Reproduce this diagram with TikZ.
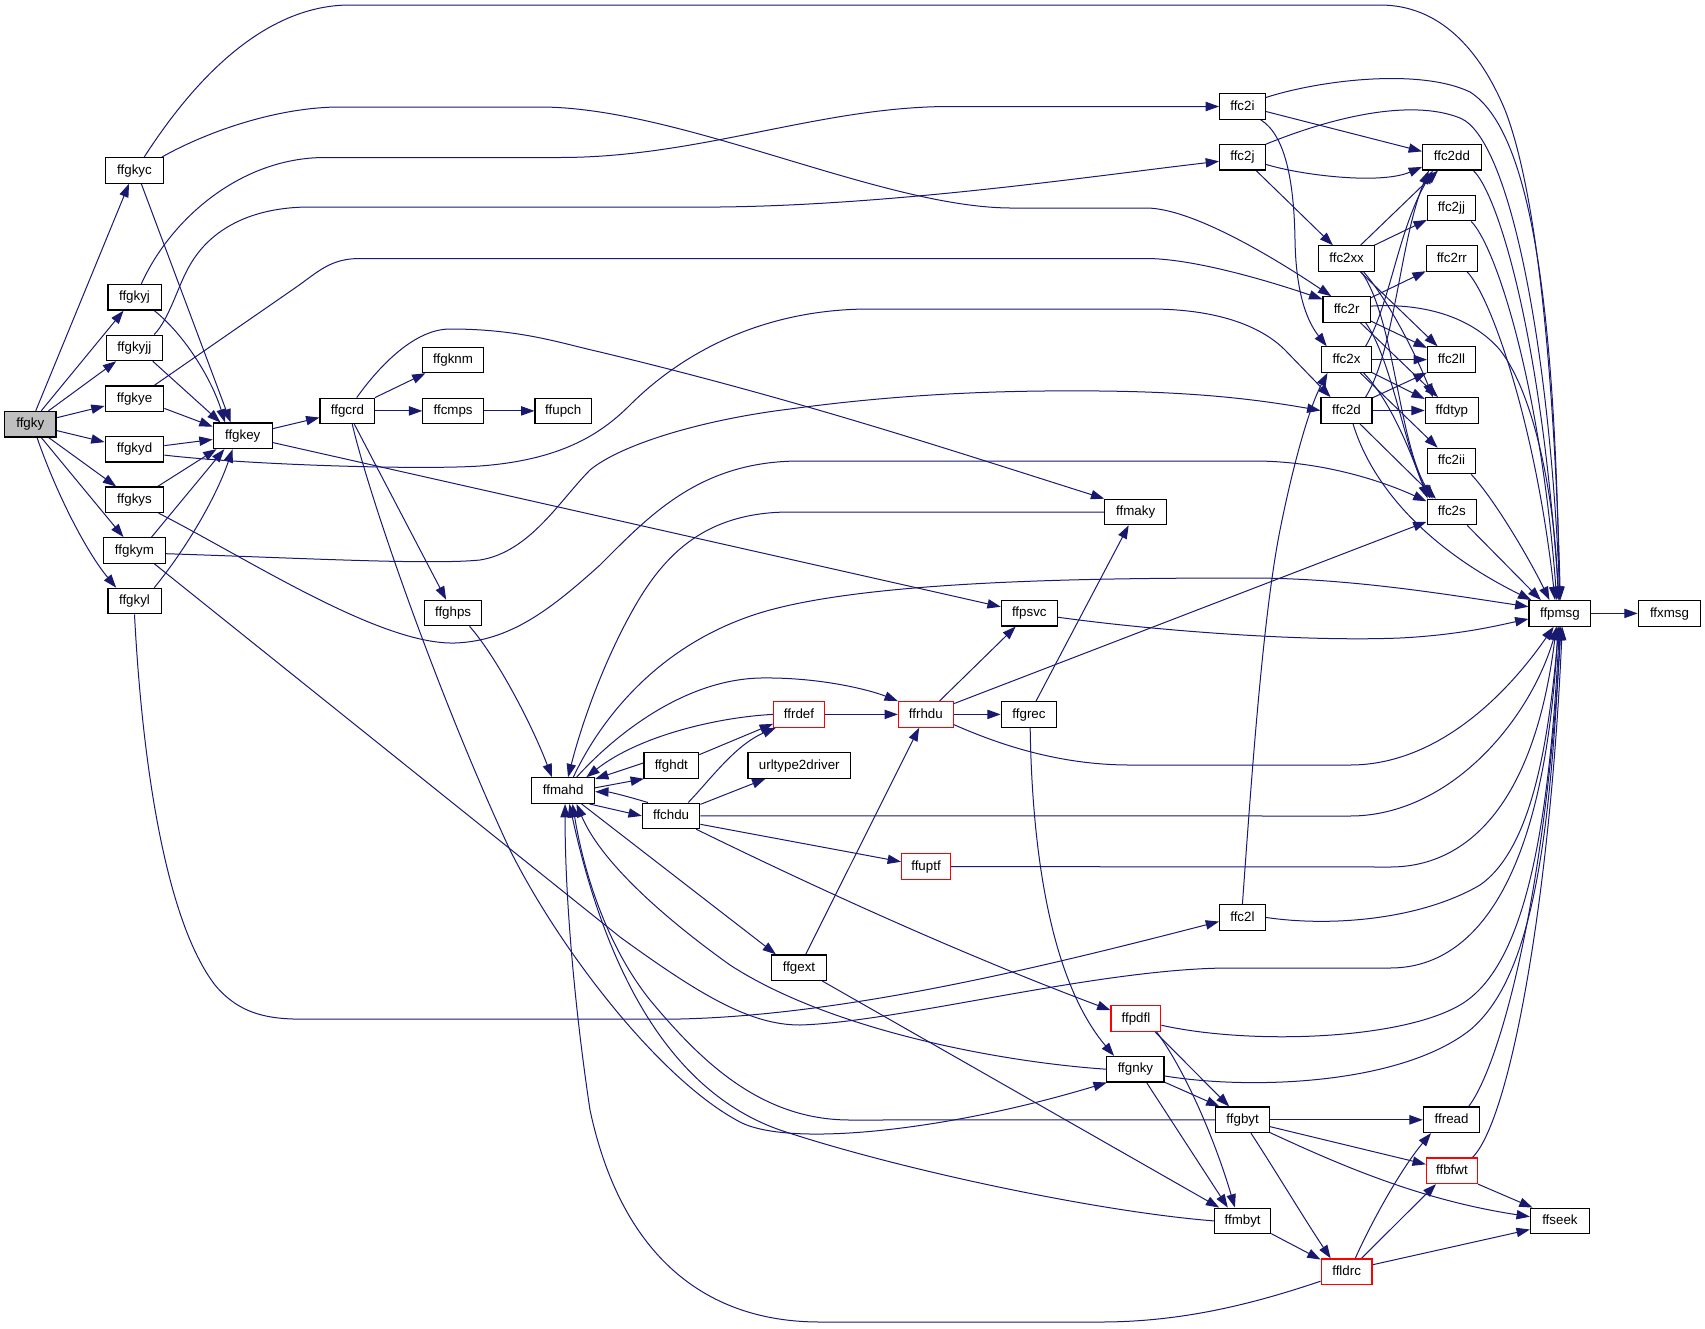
\documentclass[tikz,border=0pt]{standalone}
\usepackage{fontspec}
\setmainfont{Liberation Sans}
\usetikzlibrary{arrows.meta}
\definecolor{edgec}{HTML}{191970}
\definecolor{nodegray}{HTML}{BFBFBF}
\pgfdeclarelayer{background}
\pgfsetlayers{background,main}
\begin{document}
\begin{tikzpicture}[x=0.75pt,y=-0.75pt,
 fn/.style={draw=black, line width=0.9pt, fill=white, inner sep=0pt, minimum height=19.1pt, text height=7.4pt, text depth=2pt, font=\fontsize{10}{12}\selectfont},
 rn/.style={fn, draw=red},
 wd/.style={minimum width=#1*0.75pt},
 edg/.style={draw=edgec, line width=0.75pt, -{Triangle[length=10pt,width=7pt]}}]
\useasboundingbox (0,0) rectangle (1705,1328);
% nodes
\node[fn, fill=nodegray, wd=51.3] (ffgky) at (30.25,424.2) {ffgky};
\node[fn, wd=57.8] (ffgkyc) at (134.5,170.4) {ffgkyc};
\node[fn, wd=53.2] (ffgkyj) at (134.5,297.3) {ffgkyj};
\node[fn, wd=55.9] (ffgkyjj) at (134.4,347.9) {ffgkyjj};
\node[fn, wd=58.6] (ffgkye) at (134.5,398.7) {ffgkye};
\node[fn, wd=58.6] (ffgkyd) at (134.5,449.3) {ffgkyd};
\node[fn, wd=57.8] (ffgkys) at (134.5,499.8) {ffgkys};
\node[fn, wd=61.6] (ffgkym) at (134.5,550.4) {ffgkym};
\node[fn, wd=53.2] (ffgkyl) at (134.5,601) {ffgkyl};
\node[fn, wd=58.9] (ffgkey) at (242.7,435.8) {ffgkey};
\node[fn, wd=54.7] (ffgcrd) at (347.4,410.9) {ffgcrd};
\node[fn, wd=61.2] (ffgknm) at (453.1,359.9) {ffgknm};
\node[fn, wd=60.5] (ffcmps) at (453.1,410.9) {ffcmps};
\node[fn, wd=56.3] (ffupch) at (563.2,410.9) {ffupch};
\node[fn, wd=57.4] (ffghps) at (453.1,613) {ffghps};
\node[fn, wd=55.9] (ffpsvc) at (1029.3,613.2) {ffpsvc};
\node[rn, wd=50.9] (ffrdef) at (799,714.4) {ffrdef};
\node[rn, wd=54.7] (ffrhdu) at (925.8,714.4) {ffrhdu};
\node[fn, wd=55.5] (ffgrec) at (1029,714.4) {ffgrec};
\node[fn, wd=54.7] (ffghdt) at (671.3,765.4) {ffghdt};
\node[fn, wd=102.6] (urltype2driver) at (799.3,765.4) {urltype2driver};
\node[fn, wd=62.7] (ffmahd) at (563.2,790.6) {ffmahd};
\node[fn, wd=57.4] (ffchdu) at (671.1,815.9) {ffchdu};
\node[rn, wd=48.9] (ffuptf) at (926,866.6) {ffuptf};
\node[fn, wd=54.7] (ffgext) at (799,967.7) {ffgext};
\node[fn, wd=45.5] (ffc2i) at (1242.4,106.5) {ffc2i};
\node[fn, wd=45.5] (ffc2j) at (1242.4,157.2) {ffc2j};
\node[fn, wd=58.6] (ffc2dd) at (1451.9,157.2) {ffc2dd};
\node[fn, wd=47.8] (ffc2jj) at (1451.4,208.1) {ffc2jj};
\node[fn, wd=56.3] (ffc2xx) at (1346.6,258.6) {ffc2xx};
\node[fn, wd=50.9] (ffc2rr) at (1451.8,258.6) {ffc2rr};
\node[fn, wd=47.1] (ffc2r) at (1346.6,309.5) {ffc2r};
\node[fn, wd=49.4] (ffc2x) at (1346.5,359.6) {ffc2x};
\node[fn, wd=47.8] (ffc2ll) at (1451.4,359.6) {ffc2ll};
\node[fn, wd=50.9] (ffc2d) at (1346.5,410.5) {ffc2d};
\node[fn, wd=53.2] (ffdtyp) at (1451.9,410.5) {ffdtyp};
\node[fn, wd=47.8] (ffc2ii) at (1451.4,461) {ffc2ii};
\node[fn, wd=49.4] (ffc2s) at (1451.8,512) {ffc2s};
\node[fn, wd=62.1] (ffmaky) at (1135.7,512) {ffmaky};
\node[fn, wd=61.7] (ffpmsg) at (1559.9,613.4) {ffpmsg};
\node[fn, wd=62.5] (ffxmsg) at (1669.5,613.4) {ffxmsg};
\node[fn, wd=45.5] (ffc2l) at (1242.4,917.4) {ffc2l};
\node[rn, wd=49.7] (ffpdfl) at (1135.9,1018.4) {ffpdfl};
\node[fn, wd=57.2] (ffgnky) at (1135.4,1069.2) {ffgnky};
\node[fn, wd=53.5] (ffgbyt) at (1242.6,1119.8) {ffgbyt};
\node[fn, wd=56.4] (ffread) at (1451.6,1119.8) {ffread};
\node[rn, wd=50.9] (ffbfwt) at (1451.9,1170.8) {ffbfwt};
\node[fn, wd=58.9] (ffseek) at (1559.9,1220.9) {ffseek};
\node[fn, wd=56] (ffmbyt) at (1242.6,1220.9) {ffmbyt};
\node[rn, wd=50.9] (ffldrc) at (1346.6,1271.7) {ffldrc};
\begin{pgfonlayer}{background}
% ffgky
\draw[edg] (ffgky) -- (ffgkyc);
\draw[edg] (ffgky) -- (ffgkyj);
\draw[edg] (ffgky) -- (ffgkyjj);
\draw[edg] (ffgky) -- (ffgkye);
\draw[edg] (ffgky) -- (ffgkyd);
\draw[edg] (ffgky) -- (ffgkys);
\draw[edg] (ffgky) -- (ffgkym);
\draw[edg] (ffgky.-63) .. controls (55,490) and (85,550) .. (ffgkyl.144);
% to ffgkey
\draw[edg] (ffgkyc.-63) -- (ffgkey.132);
\draw[edg] (ffgkyj.-34) .. controls (185,335) and (212,380) .. (ffgkey.143);
\draw[edg] (ffgkyjj.-36) -- (ffgkey.149);
\draw[edg] (ffgkye.-18) -- (ffgkey.163);
\draw[edg] (ffgkyd.7) -- (ffgkey.187);
\draw[edg] (ffgkys.30) -- (ffgkey.207);
\draw[edg] (ffgkym.38) -- (ffgkey.216);
\draw[edg] (ffgkyl.34) .. controls (185,550) and (215,500) .. (ffgkey.233);
% long edges from ffgky*
\draw[edg] (ffgkyc.54) .. controls (210,55) and (280,5) .. (350,5) -- (1380,5) .. controls (1440,5) and (1480,50) .. (1505,110) .. controls (1540,200) and (1555,400) .. (ffpmsg.88);
\draw[edg] (ffgkyc.26) .. controls (210,130) and (280,107) .. (340,107) -- (540,107) .. controls (680,107) and (880,207) .. (1010,208) -- (1146,208) .. controls (1195,208) and (1285,265) .. (ffc2r.139);
\draw[edg] (ffgkyj.63) .. controls (170,220) and (240,157.5) .. (325,157.5) -- (560,157.5) .. controls (700,157.5) and (820,106.5) .. (950,106.5) -- (ffc2i.west);
\draw[edg] (ffgkyjj.34) .. controls (170,318) and (178,285) .. (190,265) .. controls (210,230) and (250,207) .. (310,207) -- (720,207) .. controls (900,205) and (1100,175) .. (ffc2j.190);
\draw[edg] (ffgkye.34) -- (295,288) .. controls (318,272) and (330,258.5) .. (360,258.5) -- (1146,258.5) .. controls (1190,258.5) and (1260,278) .. (ffc2r.157);
\draw[edg] (ffgkyd.-11) .. controls (250,465) and (420,470) .. (480,466) .. controls (560,460) and (600,435) .. (630,405) .. controls (680,355) and (760,309) .. (870,309) -- (1150,309) .. controls (1215,309) and (1260,325) .. (1285,350) -- (ffc2d.140);
\draw[edg] (ffgkym.-6) .. controls (300,558) and (430,565) .. (480,560) .. controls (530,552) and (560,500) .. (590,470) .. controls (620,445) and (700,420) .. (790,409) .. controls (900,394) and (1000,390) .. (1100,391) .. controls (1200,392) and (1260,400) .. (ffc2d.west);
\draw[edg] (ffgkym.-34) -- (620,937) .. controls (700,995) and (750,1025) .. (800,1025) .. controls (900,1022) and (1100,968) .. (1230,968) -- (1390,968) .. controls (1480,968) and (1545,870) .. (ffpmsg.262);
\draw[edg] (ffgkys.-29) .. controls (250,560) and (380,645) .. (455,643) .. controls (510,641) and (550,610) .. (600,565) .. controls (650,515) and (700,461) .. (800,461) -- (1254,461) .. controls (1320,461) and (1380,480) .. (ffc2s.157);
\draw[edg] (ffgkyl.south) .. controls (142,760) and (165,920) .. (215,985) .. controls (240,1015) and (270,1020) .. (310,1019) -- (680,1019) .. controls (850,1015) and (1050,965) .. (ffc2l.190);
% ffgkey, ffgcrd
\draw[edg] (ffgkey) -- (ffgcrd);
\draw[edg] (ffgkey) -- (ffpsvc);
\draw[edg] (ffgcrd) -- (ffgknm);
\draw[edg] (ffgcrd) -- (ffcmps);
\draw[edg] (ffcmps) -- (ffupch);
\draw[edg] (ffgcrd) -- (ffghps);
\draw[edg] (ffgcrd.55) .. controls (380,365) and (415,329) .. (450,329) .. controls (520,329) and (560,343) .. (600,352) .. controls (800,400) and (950,450) .. (ffmaky.157);
\draw[edg] (ffgcrd.-70) .. controls (370,500) and (440,700) .. (510,850) .. controls (560,950) and (660,1080) .. (740,1122) .. controls (790,1148) and (950,1130) .. (ffgnky.205);
\draw[edg] (ffghps.-39) .. controls (495,655) and (530,720) .. (ffmahd.130);
% ffmahd cluster
\draw[edg] (ffmaky.west) -- (790,512) .. controls (700,512) and (660,560) .. (630,615) .. controls (600,670) and (580,730) .. (ffmahd.70);
\draw[edg] (ffmahd.53) .. controls (600,720) and (660,640) .. (770,610) .. controls (880,580) and (1100,578) .. (1250,578) .. controls (1350,578) and (1450,595) .. (ffpmsg.168);
\draw[edg] (ffmahd.45) .. controls (610,740) and (680,680) .. (760,678) .. controls (820,677) and (870,690) .. (ffrhdu.north west);
\draw[edg] (ffrdef.west) .. controls (720,717) and (640,735) .. (ffmahd.30);
\draw[edg] (ffghdt.175) -- (ffmahd.20);
\draw[edg] (ffmahd.5) -- (ffghdt.206);
\draw[edg] (ffchdu.150) .. controls (630,797) and (610,792) .. (ffmahd.-2);
\draw[edg] (ffmahd.-27) -- (ffchdu.west);
\draw[edg] (ffmahd.-36) -- (ffgext.150);
\draw[edg] (ffghdt.21) -- (ffrdef.200);
\draw[edg] (ffchdu.38) .. controls (710,780) and (735,745) .. (ffrdef.210);
\draw[edg] (ffchdu) -- (urltype2driver);
\draw[edg] (ffchdu.east) -- (1350,816) .. controls (1450,816) and (1530,720) .. (ffpmsg.258);
\draw[edg] (ffchdu.-16) -- (ffuptf.169);
\draw[edg] (ffchdu.-28) .. controls (800,880) and (950,950) .. (ffpdfl.162);
\draw[edg] (ffrdef) -- (ffrhdu);
\draw[edg] (ffrhdu) -- (ffgrec);
\draw[edg] (ffrhdu) -- (ffpsvc);
\draw[edg] (ffrhdu) -- (ffc2s);
\draw[edg] (ffrhdu.-20) .. controls (1000,745) and (1060,765) .. (1130,765) -- (1350,765) .. controls (1440,765) and (1510,690) .. (ffpmsg.245);
\draw[edg] (ffgrec) -- (ffmaky);
\draw[edg] (ffgrec.-85) .. controls (1032,850) and (1050,980) .. (ffgnky.148);
\draw[edg] (ffpsvc.-8) .. controls (1150,630) and (1300,642) .. (1400,638) .. controls (1460,635) and (1500,625) .. (ffpmsg.190);
\draw[edg] (ffuptf.east) -- (1390,867) .. controls (1470,867) and (1535,800) .. (ffpmsg.255);
\draw[edg] (ffgext) -- (ffrhdu);
\draw[edg] (ffgext) -- (ffmbyt);
% lower right
\draw[edg] (ffc2l.north) .. controls (1250,800) and (1262,620) .. (1280,530) .. controls (1292,470) and (1308,410) .. (ffc2x.215);
\draw[edg] (ffc2l.east) .. controls (1330,927) and (1420,920) .. (1480,885) .. controls (1530,850) and (1548,750) .. (ffpmsg.265);
\draw[edg] (ffpdfl.-15) .. controls (1250,1045) and (1400,1040) .. (1460,1005) .. controls (1520,970) and (1548,850) .. (ffpmsg.268);
\draw[edg] (ffpdfl.-35) -- (ffgbyt.135);
\draw[edg] (ffpdfl.-33) .. controls (1185,1070) and (1215,1140) .. (ffmbyt.120);
\draw[edg] (ffgnky.-13) .. controls (1250,1090) and (1400,1085) .. (1470,1030) .. controls (1530,980) and (1550,850) .. (ffpmsg.272);
\draw[edg] (ffgnky.-24) -- (ffgbyt.150);
\draw[edg] (ffgnky.-50) -- (ffmbyt.138);
\draw[edg] (ffgnky.west) .. controls (1000,1062) and (830,1030) .. (730,965) .. controls (660,915) and (600,860) .. (ffmahd.-45);
\draw[edg] (ffgbyt.west) -- (850,1120) .. controls (760,1120) and (700,1060) .. (650,1000) .. controls (610,950) and (585,880) .. (ffmahd.-55);
\draw[edg] (ffmbyt.west) .. controls (1100,1212) and (900,1170) .. (780,1130) .. controls (680,1095) and (610,990) .. (ffmahd.-65);
\draw[edg] (ffldrc.200) .. controls (1250,1305) and (1180,1322) .. (1100,1322) -- (820,1322) .. controls (700,1322) and (620,1250) .. (590,1110) .. controls (575,1010) and (565,900) .. (ffmahd.-82);
\draw[edg] (ffgbyt) -- (ffread);
\draw[edg] (ffgbyt.-14) -- (ffbfwt.166);
\draw[edg] (ffgbyt.-25) .. controls (1340,1165) and (1420,1200) .. (ffseek.172);
\draw[edg] (ffgbyt.-58) .. controls (1275,1170) and (1305,1220) .. (ffldrc.140);
\draw[edg] (ffmbyt.-24) -- (ffldrc.155);
\draw[edg] (ffldrc.57) .. controls (1370,1225) and (1400,1170) .. (ffread.213);
\draw[edg] (ffldrc.42) -- (ffbfwt.220);
\draw[edg] (ffldrc.15) -- (ffseek.196);
\draw[edg] (ffread.38) .. controls (1500,1065) and (1545,900) .. (ffpmsg.275);
\draw[edg] (ffbfwt.33) .. controls (1510,1120) and (1550,900) .. (ffpmsg.280);
\draw[edg] (ffbfwt.-27) -- (ffseek.154);
\draw[edg] (ffpmsg) -- (ffxmsg);
% upper right
\draw[edg] (ffc2i.21) .. controls (1320,80) and (1420,68) .. (1470,92) .. controls (1530,130) and (1555,300) .. (ffpmsg.92);
\draw[edg] (ffc2i.-12) -- (ffc2dd.169);
\draw[edg] (ffc2i.-36) .. controls (1285,135) and (1294,180) .. (1295,240) .. controls (1296,300) and (1310,325) .. (ffc2x.146);
\draw[edg] (ffc2j.29) .. controls (1330,118) and (1410,98) .. (1460,118) .. controls (1510,138) and (1550,350) .. (ffpmsg.90);
\draw[edg] (ffc2j.-17) .. controls (1300,175) and (1380,185) .. (ffc2dd.198);
\draw[edg] (ffc2j) -- (ffc2xx);
\draw[edg] (ffc2xx) -- (ffc2dd);
\draw[edg] (ffc2xx) -- (ffc2jj);
\draw[edg] (ffc2xx) -- (ffc2ll);
\draw[edg] (ffc2xx.-38) .. controls (1392,305) and (1418,360) .. (ffdtyp.145);
\draw[edg] (ffc2xx.-42) .. controls (1395,320) and (1398,440) .. (ffc2s.145);
\draw[edg] (ffc2r) -- (ffc2rr);
\draw[edg] (ffc2r.8) .. controls (1420,303) and (1470,315) .. (1500,350) .. controls (1535,395) and (1555,500) .. (ffpmsg.97);
\draw[edg] (ffc2r) -- (ffc2ll);
\draw[edg] (ffc2r) -- (ffdtyp);
\draw[edg] (ffc2r.-35) .. controls (1392,360) and (1405,450) .. (ffc2s.148);
\draw[edg] (ffc2x.35) .. controls (1390,305) and (1398,230) .. (ffc2dd.215);
\draw[edg] (ffc2x) -- (ffc2ll);
\draw[edg] (ffc2x.-27) -- (ffdtyp.157);
\draw[edg] (ffc2x) -- (ffc2ii);
\draw[edg] (ffc2x.-38) .. controls (1390,400) and (1410,450) .. (ffc2s.151);
\draw[edg] (ffc2d.35) .. controls (1395,350) and (1400,240) .. (ffc2dd.210);
\draw[edg] (ffc2d.26) -- (ffc2ll.208);
\draw[edg] (ffc2d) -- (ffdtyp);
\draw[edg] (ffc2d.-45) -- (ffc2s.140);
\draw[edg] (ffc2d.-64) .. controls (1370,480) and (1420,545) .. (ffpmsg.155);
\draw[edg] (ffc2dd.-32) .. controls (1495,190) and (1540,320) .. (ffpmsg.94);
\draw[edg] (ffc2jj.-34) .. controls (1495,245) and (1540,380) .. (ffpmsg.103);
\draw[edg] (ffc2rr.-41) .. controls (1490,295) and (1535,420) .. (ffpmsg.110);
\draw[edg] (ffc2ii.-34) .. controls (1495,500) and (1530,560) .. (ffpmsg.128);
\draw[edg] (ffc2s.-41) -- (ffpmsg.145);
\end{pgfonlayer}
\end{tikzpicture}
\end{document}
